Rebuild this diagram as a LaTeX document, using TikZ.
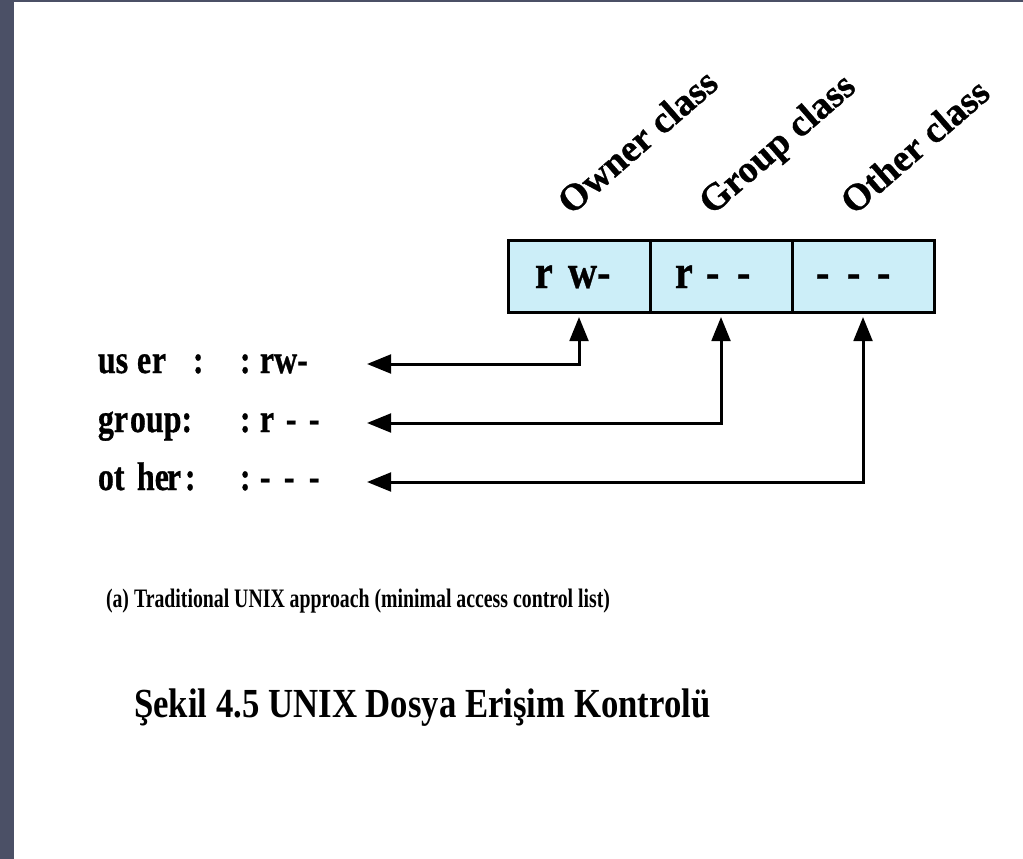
\documentclass[tikz,border=0pt]{standalone}
\usepackage{fontspec}
\setmainfont{Liberation Serif}
\newfontfamily\heavyfont{Liberation Serif Bold}[FakeBold=0.8]
\usetikzlibrary{arrows.meta}
\definecolor{bordercol}{RGB}{75,80,102}
\definecolor{cellfill}{RGB}{204,238,248}
\newlength\pxu
\setlength\pxu{0.75pt}
% piece of condensed text placed at an offset (in px) from the node's left edge
\newcommand\rowpc[2]{\rlap{\hspace{#1\pxu}\scalebox{0.8}[1]{#2}}}
\newcommand\cellpc[2]{\rlap{\hspace{#1\pxu}\scalebox{0.84}[1]{#2}}}
\tikzset{
  cellbox/.style={draw=black, line width=2.25pt, fill=cellfill, minimum width=106.5pt, minimum height=54pt, inner sep=0pt},
  celltext/.style={anchor=base west, inner sep=0pt, font=\fontsize{36}{40}\heavyfont},
  rowlabel/.style={anchor=base west, inner sep=0pt, font=\fontsize{30}{34}\heavyfont},
  classlabel/.style={anchor=base west, inner sep=0pt, rotate=41, font=\fontsize{28.5}{32}\heavyfont},
  conn/.style={line width=2.25pt, {Triangle[length=18pt,width=14pt]}-{Triangle[length=18pt,width=14pt]}},
}
\begin{document}
\begin{tikzpicture}[x=0.75pt, y=-0.75pt]
\useasboundingbox (0,0) rectangle (1023,859);
\fill[white] (0,0) rectangle (1023,859);
\fill[bordercol] (0,0) rectangle (14,859);
\fill[bordercol] (0,0) rectangle (1023,2);

% cells
\node[cellbox] (c1) at (579,276) {};
\node[cellbox] (c2) at (721,276) {};
\node[cellbox] (c3) at (863,276) {};
\node[celltext] (x1) at (534,288) {\cellpc{0}{r}\cellpc{33}{w-}\hspace{76\pxu}};
\node[celltext] (x2) at (674,288) {\cellpc{0}{r}\cellpc{31}{-}\cellpc{62}{-}\hspace{76\pxu}};
\node[celltext] (x3) at (815,288) {\cellpc{0}{-}\cellpc{31}{-}\cellpc{61}{-}\hspace{76\pxu}};

% class labels
\node[classlabel] (l1) at (571,216) {Owner class};
\node[classlabel] (l2) at (712,216) {Group class};
\node[classlabel] (l3) at (854,216) {Other class};

% row labels
\node[rowlabel] (u) at (97,373) {\rowpc{0}{us}\rowpc{39}{e}\rowpc{54}{r}\rowpc{95}{:}\rowpc{142}{:}\rowpc{162}{rw-}\hspace{220\pxu}};
\node[rowlabel] (g) at (97,432) {\rowpc{0}{gr}\rowpc{32}{oup:}\rowpc{142}{:}\rowpc{162}{r}\rowpc{188}{-}\rowpc{211}{-}\hspace{220\pxu}};
\node[rowlabel] (o) at (97,490) {\rowpc{0}{ot}\rowpc{39}{he}\rowpc{69}{r}\rowpc{87}{:}\rowpc{142}{:}\rowpc{162}{-}\rowpc{186}{-}\rowpc{211}{-}\hspace{220\pxu}};

% connector ends
\coordinate (ue) at (367,364);
\coordinate (ge) at (367,423);
\coordinate (oe) at (367,482);
\coordinate (t1) at (579,317);
\coordinate (t2) at (721,317);
\coordinate (t3) at (863,317);
\draw[conn] (ue) -| (t1);
\draw[conn] (ge) -| (t2);
\draw[conn] (oe) -| (t3);

% captions
\node[anchor=base, inner sep=0pt, font=\fontsize{20}{24}\selectfont\bfseries] (cap) at (358,607)
  {\scalebox{0.742}[1]{(a) Traditional UNIX approach (minimal access control list)}};
\node[anchor=base west, inner sep=0pt, font=\fontsize{31}{35}\selectfont\bfseries] (title) at (134,717)
  {\scalebox{0.84}[1]{Şekil 4.5 UNIX Dosya Erişim Kontrolü}};
\end{tikzpicture}
\end{document}
